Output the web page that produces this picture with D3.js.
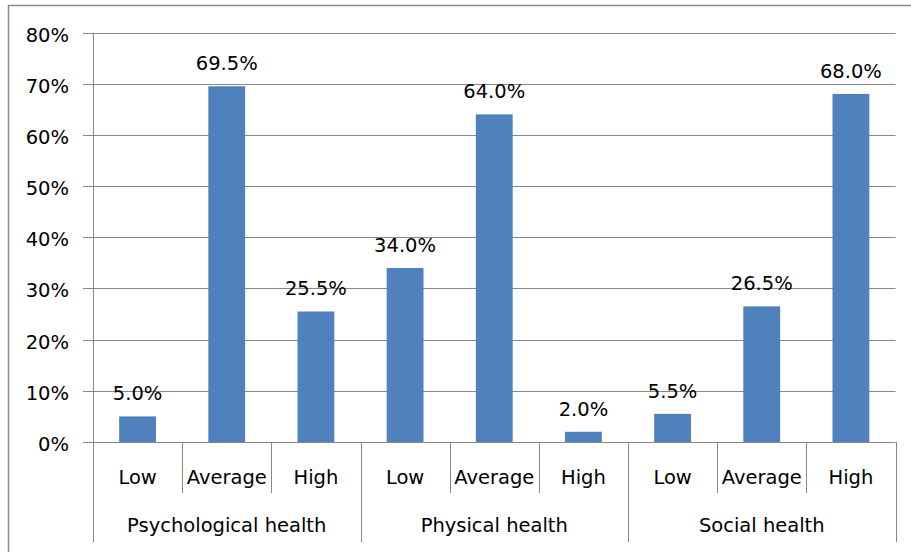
<!DOCTYPE html>
<html>
<head>
<meta charset="utf-8">
<script src="https://cdn.jsdelivr.net/npm/d3@7"></script>
<style>
  body { margin: 0; background: #fff; }
  svg { display: block; }
  text { font-family: "DejaVu Sans", sans-serif; font-size: 19.5px; fill: #000; }
</style>
</head>
<body>
<div id="chart"></div>
<script>
// data
var groups = ["Psychological health", "Physical health", "Social health"];
var levels = ["Low", "Average", "High"];
var values = [5.0, 69.5, 25.5, 34.0, 64.0, 2.0, 5.5, 26.5, 68.0];
var yTicks = [0, 10, 20, 30, 40, 50, 60, 70, 80];

var width = 911, height = 552;
// plot edges (note: "top" is taken by window.top)
var plotLeft = 93, plotRight = 895.5, plotTop = 32.5, plotBottom = 442;

var svg = d3.select("#chart")
    .append("svg")
    .attr("width", width)
    .attr("height", height);

// chart frame (runs off the right and bottom edges)
svg.append("rect")
    .attr("x", 8.5).attr("y", 5.5)
    .attr("width", 1000).attr("height", 1000)
    .attr("fill", "none")
    .attr("stroke", "#8c8c8c")
    .attr("stroke-width", 1.5);

// one band per bar, keyed by index
var cats = [];
groups.forEach(function(g, gi) {
    levels.forEach(function(l, li) {
	cats.push({ group: g, level: l, idx: gi * 3 + li, value: values[gi * 3 + li] });
    });
});

var x = d3.scaleBand()
    .domain(cats.map(function(d) { return d.idx; }))
    .range([plotLeft, plotRight])
    .paddingInner(0.587)
    .paddingOuter(0.587 / 2);

var y = d3.scaleLinear()
    .domain([0, 80])
    .range([plotBottom, plotTop]);

var step = x.step();

// gridlines
svg.selectAll("line.grid")
    .data(yTicks)
    .enter()
    .append("line")
    .attr("x1", plotLeft - 10)
    .attr("x2", plotRight)
    .attr("y1", function(d) { return Math.round(y(d)) + 0.5; })
    .attr("y2", function(d) { return Math.round(y(d)) + 0.5; })
    .attr("stroke", "#888")
    .attr("stroke-width", 1);

// y tick labels
svg.selectAll("text.ytick")
    .data(yTicks)
    .enter()
    .append("text")
    .attr("x", 69)
    .attr("y", function(d) { return y(d) + 9; })
    .attr("text-anchor", "end")
    .text(function(d) { return d + "%"; });

// bars
svg.selectAll("rect.bar")
    .data(cats)
    .enter()
    .append("rect")
    .attr("x", function(d) { return x(d.idx); })
    .attr("y", function(d) { return y(d.value); })
    .attr("width", x.bandwidth())
    .attr("height", function(d) { return y(0) - y(d.value); })
    .attr("fill", "#4f81bd");

// value labels
svg.selectAll("text.val")
    .data(cats)
    .enter()
    .append("text")
    .attr("x", function(d) { return x(d.idx) + x.bandwidth() / 2; })
    .attr("y", function(d) { return y(d.value) - 16; })
    .attr("text-anchor", "middle")
    .text(function(d) { return d.value.toFixed(1) + "%"; });

// y axis line, extends down through the category rows
svg.append("line")
    .attr("x1", plotLeft + 0.5).attr("x2", plotLeft + 0.5)
    .attr("y1", plotTop).attr("y2", 542)
    .attr("stroke", "#888");

// separators between levels (short) and between groups (long)
var seps = d3.range(1, cats.length + 1);
svg.selectAll("line.sep")
    .data(seps)
    .enter()
    .append("line")
    .attr("x1", function(i) { return Math.round(plotLeft + i * step) + 0.5; })
    .attr("x2", function(i) { return Math.round(plotLeft + i * step) + 0.5; })
    .attr("y1", plotBottom)
    .attr("y2", function(i) { return i % 3 == 0 ? 542 : 493; })
    .attr("stroke", "#888");

// level labels
svg.selectAll("text.level")
    .data(cats)
    .enter()
    .append("text")
    .attr("x", function(d) { return x(d.idx) + x.bandwidth() / 2; })
    .attr("y", 484)
    .attr("text-anchor", "middle")
    .text(function(d) { return d.level; });

// group labels
svg.selectAll("text.group")
    .data(groups)
    .enter()
    .append("text")
    .attr("x", function(d, i) { return plotLeft + (i * 3 + 1.5) * step; })
    .attr("y", 532)
    .attr("text-anchor", "middle")
    .text(function(d) { return d; });
</script>
</body>
</html>
